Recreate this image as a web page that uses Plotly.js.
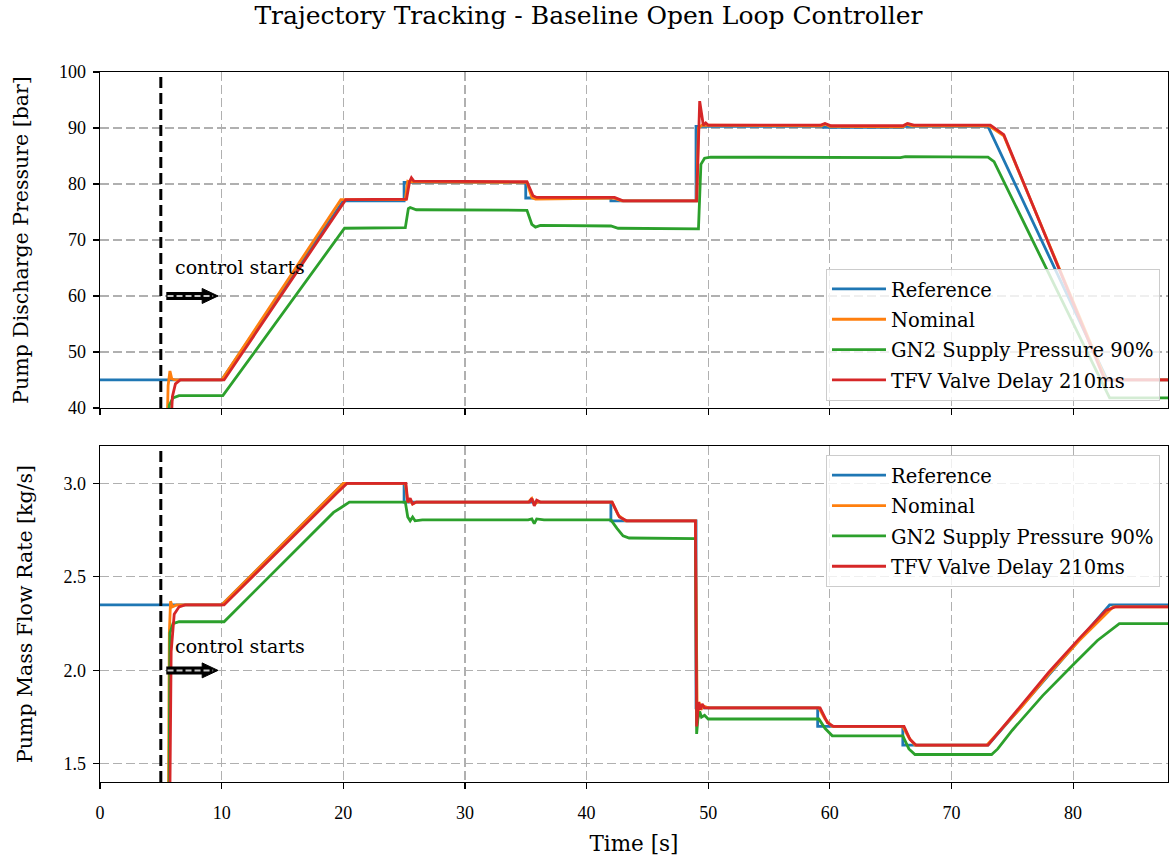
<!DOCTYPE html>
<html>
<head>
<meta charset="utf-8">
<script src="https://cdn.plot.ly/plotly-3.0.1.min.js"></script>
<style>html,body{margin:0;padding:0;background:#fff;}#chart{width:1170px;height:859px;}</style>
</head>
<body>
<div id="chart"></div>
<script>
// ---------- Data: Pump Discharge Pressure [bar] ----------
const tRefP = [0, 10, 20, 25, 25, 35, 35, 42, 42, 49, 49, 59.5, 59.5, 66, 66, 73, 82.8, 87.8];
const pRef  = [45, 45, 77, 77, 80.3, 80.3, 77.5, 77.5, 77, 77, 90.3, 90.3, 90.1, 90.1, 90.3, 90.3, 45, 45];

const tNomP = [5.5, 5.6, 5.75, 5.9, 6.2, 10, 19.8, 25.1, 25.3, 25.5, 35.1, 35.5, 35.8, 42.2, 42.9, 49.05, 49.2, 49.5, 59.3, 59.6, 60, 66, 66.3, 66.8, 73.1, 74.3, 82.7, 87.8];
const pNom  = [35, 44, 46.6, 45.2, 45, 45, 77.2, 77.2, 80.5, 80.4, 80.3, 77.6, 77.3, 77.5, 77.0, 77.0, 90, 90.5, 90.4, 90.7, 90.3, 90.2, 90.7, 90.4, 90.4, 88.6, 45, 45];

const tGnP = [5.55, 5.7, 6.0, 6.5, 10.1, 20.1, 25.1, 25.35, 25.5, 26, 35.1, 35.5, 35.8, 36.2, 42.0, 42.6, 49.2, 49.4, 49.7, 50.2, 65.8, 66.2, 73.0, 73.5, 83.0, 87.8];
const pGn  = [35, 40.5, 41.8, 42.2, 42.2, 72.1, 72.2, 75.6, 75.8, 75.4, 75.3, 72.8, 72.3, 72.6, 72.5, 72.1, 72.0, 83.5, 84.6, 84.8, 84.7, 84.9, 84.8, 84.0, 41.8, 41.8];

const tTfvP = [5.8, 5.95, 6.2, 6.6, 10.2, 20.2, 25.2, 25.45, 25.6, 25.8, 35.1, 35.6, 35.9, 42.3, 43.0, 49.05, 49.3, 49.6, 49.8, 50.0, 59.2, 59.6, 60.1, 66.0, 66.4, 66.9, 73.2, 74.3, 82.6, 87.8];
const pTfv  = [35, 42, 44.3, 45, 45, 77.2, 77.3, 80.4, 81.1, 80.5, 80.4, 77.9, 77.6, 77.6, 77.0, 77.0, 94.8, 90.5, 90.9, 90.5, 90.5, 90.8, 90.4, 90.4, 90.8, 90.5, 90.5, 88.8, 45, 45];

// ---------- Data: Pump Mass Flow Rate [kg/s] ----------
const tRefM = [0, 10, 20, 25, 25, 42, 42, 49, 49, 59, 59, 66, 66, 73, 83, 87.8];
const mRef  = [2.35, 2.35, 3.0, 3.0, 2.9, 2.9, 2.8, 2.8, 1.8, 1.8, 1.7, 1.7, 1.6, 1.6, 2.35, 2.35];

const tNomM = [5.6, 5.7, 5.8, 5.95, 6.3, 10, 20, 25.1, 25.3, 25.5, 25.7, 26, 35.2, 35.5, 35.7, 36, 42.1, 42.6, 43.2, 48.95, 49.1, 49.25, 49.4, 49.6, 50, 59.1, 59.6, 60.2, 66.0, 66.5, 67, 72.9, 75.7, 78, 80.5, 83.3, 87.8];
const mNom  = [1.0, 2.2, 2.37, 2.34, 2.35, 2.35, 3.0, 3.0, 2.9, 2.91, 2.89, 2.9, 2.9, 2.92, 2.89, 2.9, 2.9, 2.83, 2.8, 2.8, 1.72, 1.83, 1.79, 1.81, 1.8, 1.8, 1.74, 1.7, 1.7, 1.64, 1.6, 1.6, 1.8, 1.98, 2.16, 2.34, 2.34];

const tGnM = [5.65, 5.75, 6.0, 6.5, 10.2, 19.2, 19.8, 20.5, 25.1, 25.3, 25.5, 25.7, 25.9, 26.5, 35.2, 35.5, 35.7, 35.9, 36.5, 42.0, 42.5, 43.0, 43.5, 48.95, 49.05, 49.15, 49.3, 49.45, 49.7, 50, 59.1, 59.6, 60.2, 66.0, 66.5, 67, 73.3, 73.8, 75, 77.5, 80, 82, 83.8, 87.8];
const mGn  = [1.0, 2.2, 2.25, 2.26, 2.26, 2.845, 2.87, 2.9, 2.9, 2.82, 2.80, 2.82, 2.80, 2.805, 2.805, 2.81, 2.785, 2.81, 2.805, 2.805, 2.76, 2.72, 2.708, 2.705, 1.66, 1.74, 1.78, 1.75, 1.76, 1.74, 1.74, 1.69, 1.65, 1.65, 1.58, 1.55, 1.55, 1.58, 1.68, 1.865, 2.03, 2.16, 2.25, 2.25];

const tTfvM = [5.7, 5.85, 6.1, 6.5, 7, 10.2, 19.5, 20.3, 25.15, 25.3, 25.5, 25.7, 26, 35.3, 35.5, 35.7, 35.9, 36.2, 42.1, 42.7, 43.3, 48.95, 49.05, 49.2, 49.35, 49.5, 49.7, 59.2, 59.8, 60.3, 66.1, 66.6, 67.1, 73, 75.7, 78, 80.5, 82.7, 83.5, 87.8];
const mTfv  = [1.0, 2.1, 2.3, 2.34, 2.35, 2.35, 2.95, 3.0, 3.0, 2.9, 2.92, 2.89, 2.9, 2.9, 2.92, 2.88, 2.91, 2.9, 2.9, 2.82, 2.8, 2.8, 1.7, 1.83, 1.79, 1.82, 1.8, 1.8, 1.72, 1.7, 1.7, 1.63, 1.6, 1.6, 1.81, 1.99, 2.17, 2.32, 2.34, 2.34];

const seriesNames = ['Reference', 'Nominal', 'GN2 Supply Pressure 90%', 'TFV Valve Delay 210ms'];
const seriesColors = ['#1f77b4', '#ff7f0e', '#2ca02c', '#d62728'];
const xTicks = [0, 10, 20, 30, 40, 50, 60, 70, 80];
const pTicks = [40, 50, 60, 70, 80, 90, 100];
const mTicks = [1.5, 2.0, 2.5, 3.0];
const annotText = 'control starts';

// ---------- Build ----------
const TXT = 'DejaVu Serif, serif';
const NUM = 'Liberation Serif, serif';
const LW = 2.8;
const topSets = [[tRefP, pRef], [tNomP, pNom], [tGnP, pGn], [tTfvP, pTfv]];
const botSets = [[tRefM, mRef], [tNomM, mNom], [tGnM, mGn], [tTfvM, mTfv]];
const traces = [];
topSets.forEach((s, i) => traces.push({
  x: s[0], y: s[1], type: 'scatter', mode: 'lines', name: seriesNames[i],
  line: {color: seriesColors[i], width: LW}, xaxis: 'x', yaxis: 'y',
  legend: 'legend', legendgroup: 'a' + i
}));
botSets.forEach((s, i) => traces.push({
  x: s[0], y: s[1], type: 'scatter', mode: 'lines', name: seriesNames[i],
  line: {color: seriesColors[i], width: LW}, xaxis: 'x2', yaxis: 'y2',
  legend: 'legend2', legendgroup: 'b' + i
}));

const gridCommon = {
  showgrid: true, gridcolor: '#b0b0b0', gridwidth: 1.2, griddash: '9px,4px',
  zeroline: false, showline: true, linecolor: '#000', linewidth: 1.3, mirror: true,
  ticks: 'outside', ticklen: 6, tickwidth: 1.2, tickcolor: '#000',
  tickfont: {family: NUM, size: 18, color: '#000'}
};

const legendCommon = {
  bgcolor: 'rgba(255,255,255,0.8)', bordercolor: '#cccccc', borderwidth: 1,
  font: {family: TXT, size: 19.5, color: '#000'}, tracegroupgap: 2, itemwidth: 54,
  xanchor: 'right', x: 0.9925
};

function arrowShapes(xref, yref, y0, half) {
  return [
    {type: 'line', xref: xref, yref: yref, x0: 5.45, x1: 8.6, y0: y0, y1: y0, line: {color: '#000', width: 8}, layer: 'above'},
    {type: 'path', xref: xref, yref: yref, path: `M 8.4 ${y0 + half} L 9.7 ${y0} L 8.4 ${y0 - half} Z`, fillcolor: '#000', line: {color: '#000', width: 1}, layer: 'above'},
    {type: 'line', xref: xref, yref: yref, x0: 5.55, x1: 9.3, y0: y0, y1: y0, line: {color: '#c8c8c8', width: 2, dash: '6px,3px'}, layer: 'above'}
  ];
}

const layout = {
  width: 1170, height: 859,
  margin: {l: 100, r: 2, t: 72, b: 77},
  paper_bgcolor: '#fff', plot_bgcolor: '#fff',
  showlegend: true,
  title: {text: 'Trajectory Tracking - Baseline Open Loop Controller', font: {family: TXT, size: 25, color: '#000'}, x: 0.503, xref: 'container', y: 0.982, yref: 'container', yanchor: 'middle'},
  xaxis: Object.assign({}, gridCommon, {domain: [0, 1], anchor: 'y', range: [0, 87.8], tickvals: xTicks, showticklabels: false, matches: 'x2'}),
  yaxis: Object.assign({}, gridCommon, {domain: [0.5268, 1], anchor: 'x', range: [40, 100], tickvals: pTicks, ticklabelstandoff: 3,
    title: {text: 'Pump Discharge Pressure [bar]', font: {family: TXT, size: 20.5, color: '#000'}, standoff: 25}}),
  xaxis2: Object.assign({}, gridCommon, {domain: [0, 1], anchor: 'y2', range: [0, 87.8], tickvals: xTicks, ticklabelstandoff: 8,
    title: {text: 'Time [s]', font: {family: TXT, size: 21.5, color: '#000'}, standoff: 14}}),
  yaxis2: Object.assign({}, gridCommon, {domain: [0, 0.4732], anchor: 'x2', range: [1.403, 3.2], tickvals: mTicks, tickformat: '.1f', ticklabelstandoff: 3,
    title: {text: 'Pump Mass Flow Rate [kg/s]', font: {family: TXT, size: 20.5, color: '#000'}, standoff: 25}}),
  legend: Object.assign({}, legendCommon, {yanchor: 'bottom', y: 0.537}),
  legend2: Object.assign({}, legendCommon, {yanchor: 'top', y: 0.4605}),
  shapes: [
    {type: 'line', xref: 'x', yref: 'y domain', x0: 5, x1: 5, y0: 0, y1: 1, line: {color: '#000', width: 3, dash: '11px,5px'}, layer: 'above'},
    {type: 'line', xref: 'x2', yref: 'y2 domain', x0: 5, x1: 5, y0: 0, y1: 1, line: {color: '#000', width: 3, dash: '11px,5px'}, layer: 'above'}
  ].concat(arrowShapes('x', 'y', 60, 1.34)).concat(arrowShapes('x2', 'y2', 2.0, 0.04)),
  annotations: [
    {xref: 'x', yref: 'y', x: 11.5, y: 65.2, text: annotText, showarrow: false, font: {family: TXT, size: 19, color: '#000'}},
    {xref: 'x2', yref: 'y2', x: 11.5, y: 2.129, text: annotText, showarrow: false, font: {family: TXT, size: 19, color: '#000'}}
  ]
};

Plotly.newPlot('chart', traces, layout, {displayModeBar: false, staticPlot: true});
</script>
</body>
</html>
